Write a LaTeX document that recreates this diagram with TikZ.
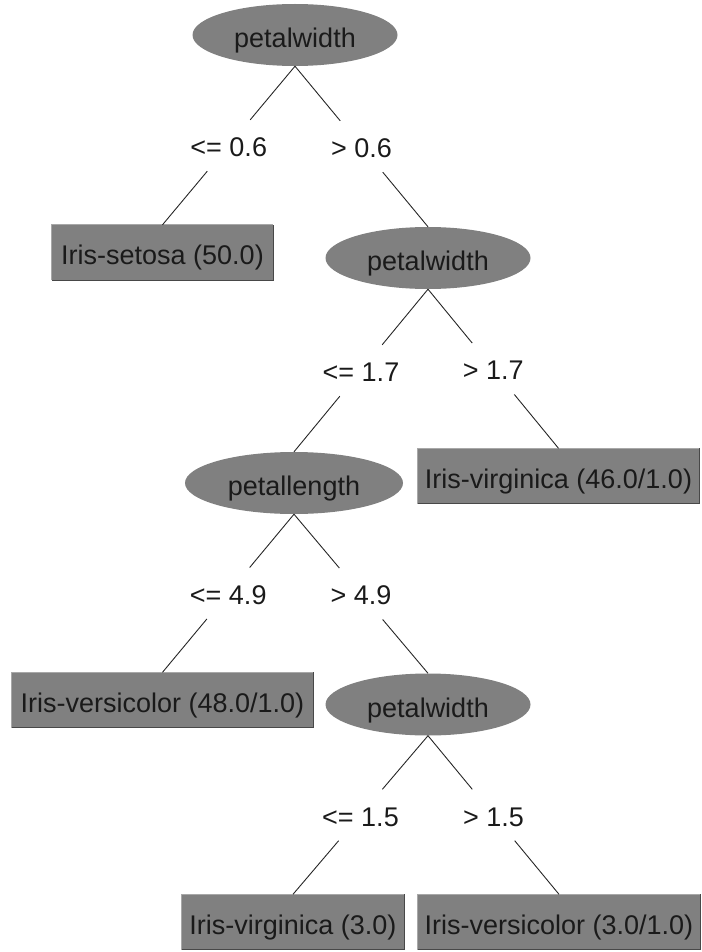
\documentclass[tikz,border=0pt]{standalone}
\usepackage{fontspec}
\setmainfont{Liberation Sans}
\usetikzlibrary{shapes.geometric}
\definecolor{nodegray}{HTML}{808080}
\definecolor{bevlight}{HTML}{A8A8A8}
\definecolor{bevdark}{HTML}{484848}
\definecolor{txt}{HTML}{1A1A1A}
\begin{document}
\begin{tikzpicture}[x=1pt,y=-1pt,
  every node/.style={font=\fontsize{27}{30}\selectfont, text=txt},
  attr/.style={ellipse, fill=nodegray, minimum width=205pt, minimum height=62pt, inner sep=0pt, text height=25pt, text depth=0pt},
  leaf/.style={rectangle, fill=nodegray, minimum height=55pt, inner sep=0pt, text height=24pt, text depth=0pt},
  cond/.style={minimum height=51pt, minimum width=60pt, inner sep=0pt, text height=22pt, text depth=0pt},
  conn/.style={draw=black!85, line width=0.9pt},
  bevl/.style={draw=bevlight, line width=1pt},
  bevd/.style={draw=bevdark, line width=1pt}]
\useasboundingbox (0,0) rectangle (701,952);

% decision nodes and leaves
\node[attr] (e1) at (295,35) {petalwidth};
\node[leaf, minimum width=221pt] (b1) at (162.5,252.5) {Iris-setosa (50.0)};
\node[attr] (e2) at (428,258) {petalwidth};
\node[attr, minimum width=218pt] (e3) at (294,483) {petallength};
\node[leaf, minimum width=281pt] (b2) at (558.5,476) {Iris-virginica (46.0/1.0)};
\node[leaf, minimum width=301pt] (b3) at (162.5,700) {Iris-versicolor (48.0/1.0)};
\node[attr] (e4) at (428,704.5) {petalwidth};
\node[leaf, minimum width=222pt] (b4) at (293,922) {Iris-virginica (3.0)};
\node[leaf, minimum width=282pt] (b5) at (559,922) {Iris-versicolor (3.0/1.0)};

% bevel edges of the leaf boxes
\foreach \b in {b1,b2,b3,b4,b5}{
  \draw[bevl] (\b.south west) |- (\b.north east);
  \draw[bevd] (\b.south west) -| (\b.north east);
}

% condition labels, placed midway on each branch
\path (e1.south) -- node[cond] (c1) {<= 0.6} (b1.north);
\path (e1.south) -- node[cond] (c2) {> 0.6} (e2.north);
\path (e2.south) -- node[cond] (c3) {<= 1.7} (e3.north);
\path (e2.south) -- node[cond] (c4) {> 1.7} (b2.north);
\path (e3.south) -- node[cond] (c5) {<= 4.9} (b3.north);
\path (e3.south) -- node[cond] (c6) {> 4.9} (e4.north);
\path (e4.south) -- node[cond] (c7) {<= 1.5} (b4.north);
\path (e4.south) -- node[cond] (c8) {> 1.5} (b5.north);

% branches
\draw[conn] (e1.south) -- (c1); \draw[conn] (c1) -- (b1.north);
\draw[conn] (e1.south) -- (c2); \draw[conn] (c2) -- (e2.north);
\draw[conn] (e2.south) -- (c3); \draw[conn] (c3) -- (e3.north);
\draw[conn] (e2.south) -- (c4); \draw[conn] (c4) -- (b2.north);
\draw[conn] (e3.south) -- (c5); \draw[conn] (c5) -- (b3.north);
\draw[conn] (e3.south) -- (c6); \draw[conn] (c6) -- (e4.north);
\draw[conn] (e4.south) -- (c7); \draw[conn] (c7) -- (b4.north);
\draw[conn] (e4.south) -- (c8); \draw[conn] (c8) -- (b5.north);
\end{tikzpicture}
\end{document}
